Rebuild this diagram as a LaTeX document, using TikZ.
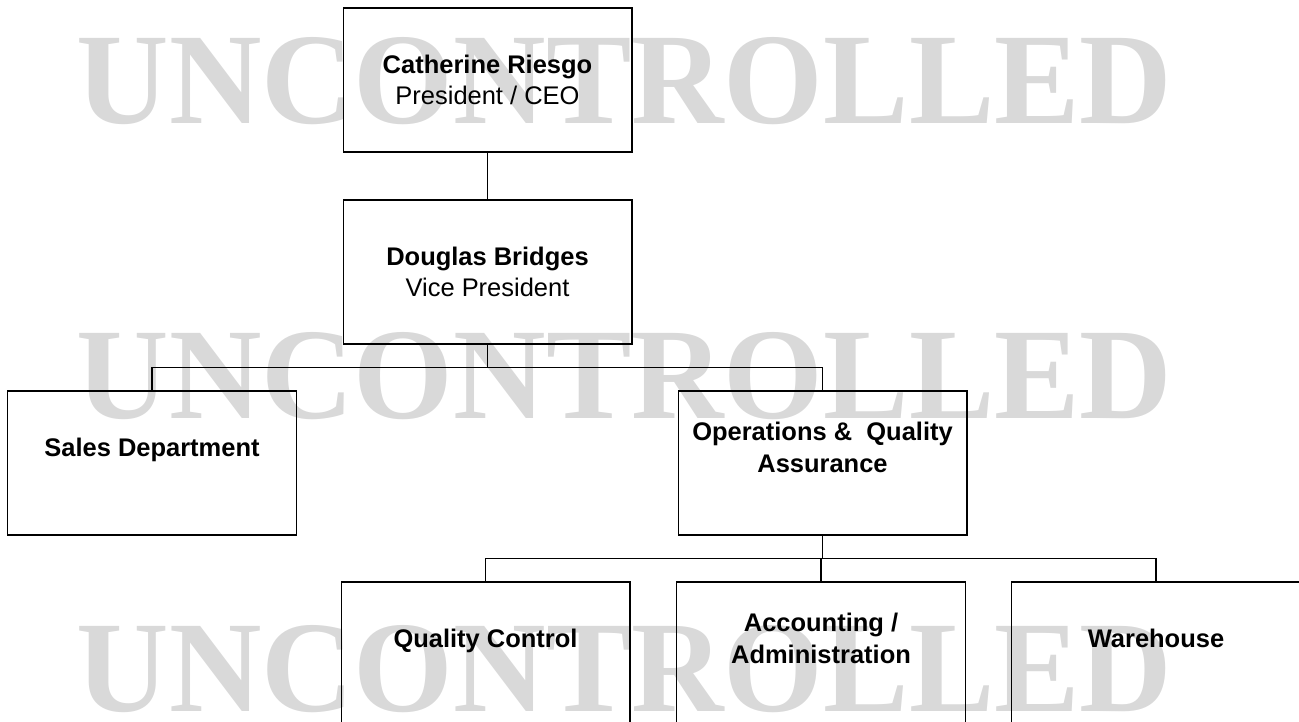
\documentclass[tikz,border=0pt]{standalone}
\usepackage{fontspec}
\setmainfont{Liberation Sans}
\newfontfamily\stampfont{Liberation Serif}
\usepackage{tikz}
\definecolor{stampgray}{HTML}{D9D9D9}

\begin{document}
\begin{tikzpicture}[x=0.02cm,y=-0.02cm,line width=0.6pt,
	unit/.style={draw,minimum width=5.78cm,minimum height=2.88cm,align=center,inner sep=0pt,font=\fontsize{14.5}{18}\selectfont},
	stamp/.style={text=stampgray,inner sep=0pt,xscale=0.985,transform shape,font=\fontsize{74}{80}\stampfont\bfseries}]
	\clip (0,0) rectangle (1299,721);
	% watermark
	\node at (624.5,81) (wm1) [stamp] {UNCONTROLLED};
	\node at (624.5,376) (wm2) [stamp] {UNCONTROLLED};
	\node at (624.5,669) (wm3) [stamp] {UNCONTROLLED};
	% boxes
	\node at (487.5,80) (ceo) [unit] {\textbf{Catherine Riesgo}\\President / CEO};
	\node at (487.5,272) (vp) [unit] {\textbf{Douglas Bridges}\\Vice President};
	\node at (152,463) (sales) [unit] {\textbf{Sales Department}\\\mbox{}};
	\node at (822.5,463) (ops) [unit] {\textbf{Operations \& \ Quality}\\\textbf{Assurance}\\\mbox{}};
	\node at (485.5,654) (qc) [unit] {\textbf{Quality Control}\\\mbox{}};
	\node at (821,654) (acct) [unit] {\textbf{Accounting /}\\\textbf{Administration}\\\mbox{}};
	\node at (1156,654) (wh) [unit] {\textbf{Warehouse}\\\mbox{}};
	% lines
	\path (ceo) edge (vp);
	\draw (vp.south) -- ++(0,23) -| (sales.north);
	\draw (vp.south) -- ++(0,23) -| (ops.north);
	\draw (ops.south) -- ++(0,23) -| (qc.north);
	\draw (ops.south) -- ++(0,23) -| (acct.north);
	\draw (ops.south) -- ++(0,23) -| (wh.north);
\end{tikzpicture}
\end{document}
